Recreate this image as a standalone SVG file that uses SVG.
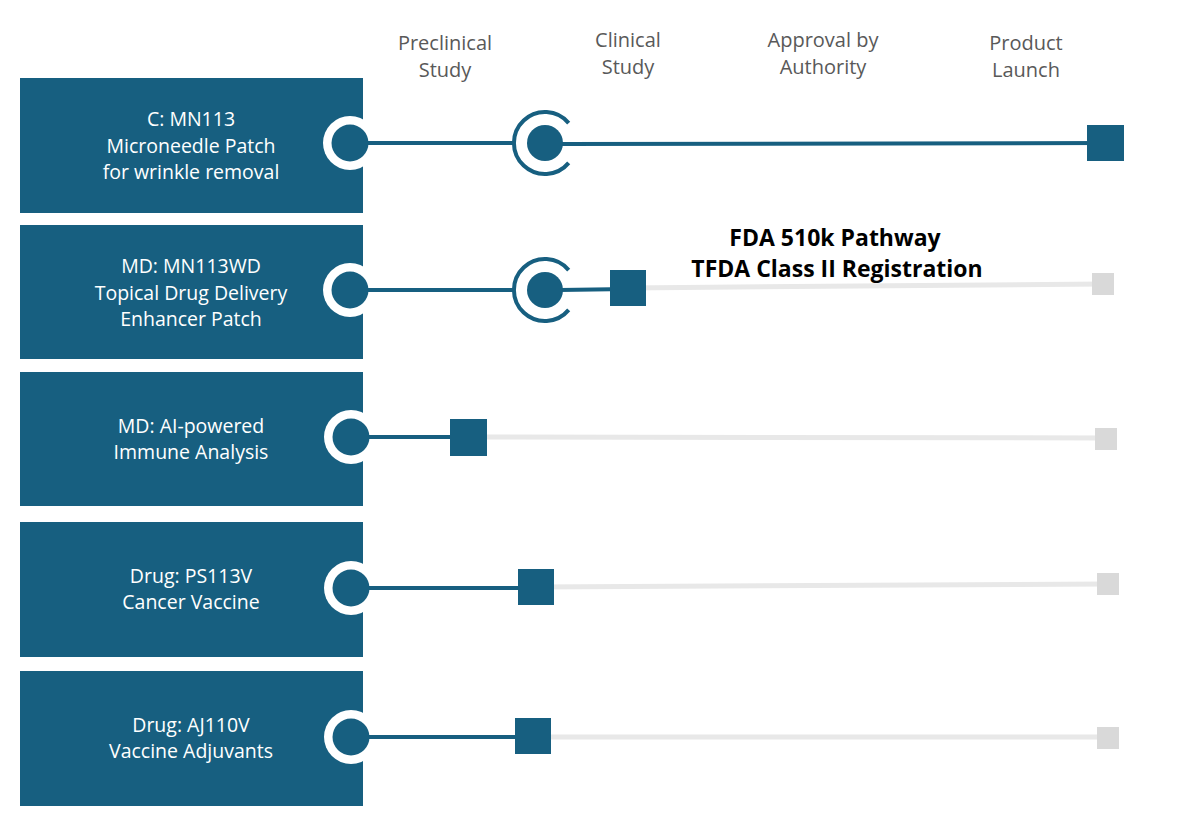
<svg xmlns="http://www.w3.org/2000/svg" width="1200" height="838" viewBox="0 0 1200 838">
<style>
.box{fill:#175f80}
.bt{font-family:"Open Sans","Liberation Sans",sans-serif;font-size:19.5px;fill:#ffffff;text-anchor:middle}
.ht{font-family:"Open Sans","Liberation Sans",sans-serif;font-size:20px;fill:#595959;text-anchor:middle}
.ft{font-family:"Open Sans","Liberation Sans",sans-serif;font-size:23px;font-weight:bold;fill:#000000;text-anchor:middle}
.done{stroke:#175f80;stroke-width:4;fill:none}
.todo{stroke:#e8e8e8;stroke-width:5;fill:none}
.ring{fill:#ffffff}
.dot{fill:#175f80}
.arc{stroke:#175f80;stroke-width:4;fill:none}
.sq{fill:#175f80}
.gsq{fill:#d9d9d9}
</style>
<rect width="1200" height="838" fill="#ffffff"/>
<g id="headers">
<text class="ht" x="445" y="50">Preclinical</text>
<text class="ht" x="445" y="77">Study</text>
<text class="ht" x="628" y="47">Clinical</text>
<text class="ht" x="628" y="74">Study</text>
<text class="ht" x="823" y="47">Approval by</text>
<text class="ht" x="823" y="74">Authority</text>
<text class="ht" x="1026" y="50">Product</text>
<text class="ht" x="1026" y="77">Launch</text>
</g>
<g id="node-mn113">
<rect class="box" x="20" y="78" width="343" height="135"/>
<text class="bt" x="191" y="126">C: MN113</text>
<text class="bt" x="191" y="153">Microneedle Patch</text>
<text class="bt" x="191" y="179">for wrinkle removal</text>
</g>
<g id="node-mn113wd">
<rect class="box" x="20" y="225" width="343" height="134"/>
<text class="bt" x="191" y="273">MD: MN113WD</text>
<text class="bt" x="191" y="300">Topical Drug Delivery</text>
<text class="bt" x="191" y="326">Enhancer Patch</text>
</g>
<g id="node-ai">
<rect class="box" x="20" y="372" width="343" height="134"/>
<text class="bt" x="191" y="433">MD: AI-powered</text>
<text class="bt" x="191" y="459">Immune Analysis</text>
</g>
<g id="node-ps113v">
<rect class="box" x="20" y="522" width="343" height="135"/>
<text class="bt" x="191" y="583">Drug: PS113V</text>
<text class="bt" x="191" y="609">Cancer Vaccine</text>
</g>
<g id="node-aj110v">
<rect class="box" x="20" y="671" width="343" height="135"/>
<text class="bt" x="191" y="732">Drug: AJ110V</text>
<text class="bt" x="191" y="758">Vaccine Adjuvants</text>
</g>
<g id="start-rings">
<circle class="ring" cx="350" cy="143" r="27"/>
<circle class="ring" cx="350" cy="290" r="27"/>
<circle class="ring" cx="351" cy="437" r="27"/>
<circle class="ring" cx="351" cy="588" r="27"/>
<circle class="ring" cx="351" cy="737" r="27"/>
</g>
<g id="connectors">
<line class="todo" x1="628" y1="288" x2="1103" y2="284"/>
<line class="todo" x1="468" y1="437" x2="1106" y2="438"/>
<line class="todo" x1="536" y1="587" x2="1108" y2="584"/>
<line class="todo" x1="533" y1="737" x2="1108" y2="737"/>
<line class="done" x1="355" y1="143" x2="514" y2="143"/>
<line class="done" x1="560" y1="144" x2="1105" y2="143"/>
<line class="done" x1="355" y1="290" x2="514" y2="290"/>
<line class="done" x1="560" y1="290" x2="628" y2="289"/>
<line class="done" x1="355" y1="437" x2="468" y2="437"/>
<line class="done" x1="355" y1="588" x2="536" y2="588"/>
<line class="done" x1="355" y1="737" x2="533" y2="737"/>
</g>
<g id="milestones">
<circle class="dot" cx="350" cy="143" r="18.5"/>
<circle class="dot" cx="350" cy="290" r="18.5"/>
<circle class="dot" cx="351" cy="437" r="18.5"/>
<circle class="dot" cx="351" cy="588" r="18.5"/>
<circle class="dot" cx="351" cy="737" r="18.5"/>
<circle class="dot" cx="545" cy="143" r="18"/>
<path class="arc" d="M568.7 123.1 A31 31 0 1 0 568.7 162.9"/>
<circle class="dot" cx="545" cy="290" r="18"/>
<path class="arc" d="M568.7 270.1 A31 31 0 1 0 568.7 309.9"/>
<rect class="sq" x="1087" y="125" width="37" height="36"/>
<rect class="sq" x="610" y="270" width="36" height="36"/>
<rect class="sq" x="450" y="419" width="37" height="37"/>
<rect class="sq" x="518" y="569" width="36" height="36"/>
<rect class="sq" x="515" y="718" width="36" height="36"/>
<rect class="gsq" x="1092" y="273" width="22" height="22"/>
<rect class="gsq" x="1095" y="428" width="22" height="22"/>
<rect class="gsq" x="1097" y="573" width="22" height="22"/>
<rect class="gsq" x="1097" y="727" width="22" height="22"/>
</g>
<g id="annotation">
<text class="ft" x="835" y="246">FDA 510k Pathway</text>
<text class="ft" x="837" y="277">TFDA Class II Registration</text>
</g>
</svg>
